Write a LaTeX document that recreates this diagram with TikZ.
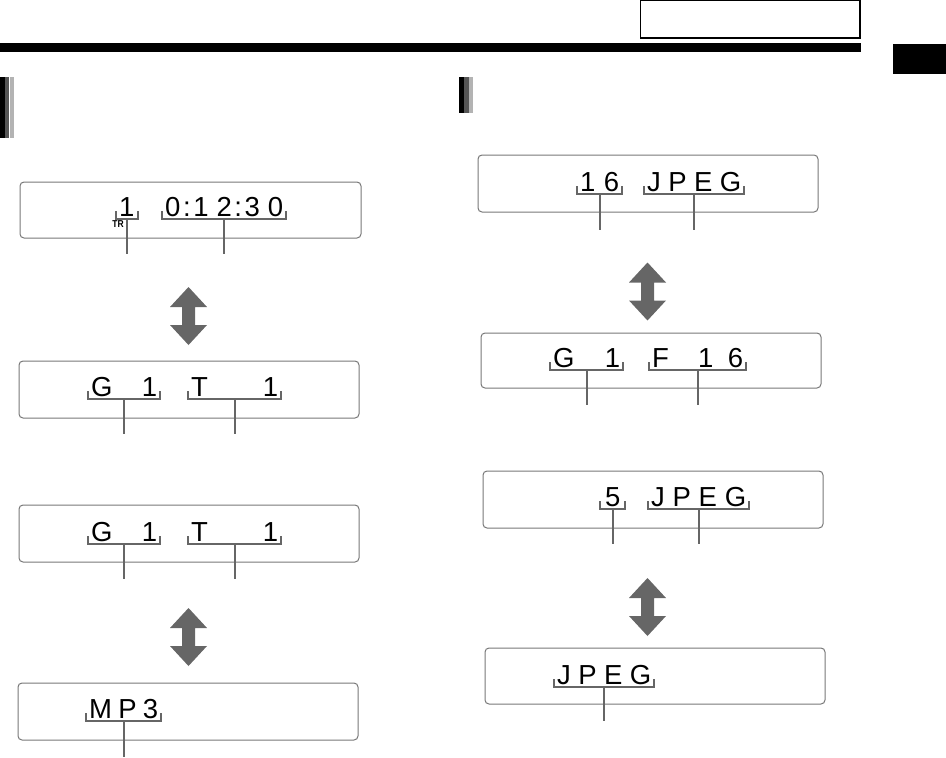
\documentclass[tikz,border=0pt]{standalone}
\usepackage{fontspec}
\setmainfont{Liberation Sans}
\usetikzlibrary{positioning}
\definecolor{LcdGray}{RGB}{102,102,102}
\definecolor{FrameGray}{RGB}{120,120,120}
\definecolor{BarDark}{RGB}{85,85,85}
\definecolor{BarLight}{RGB}{179,179,179}

% segment of a display: name, left x, baseline, width, text, leader end
\newcommand{\seg}[6]{%
  \node[seg, anchor=base west] (#1) at (#2,#3) {\makebox[#4pt][s]{#5}};
  \draw[brk] ([yshift=5pt]#1.base west) |- ([yshift=-2.5pt]#1.base) coordinate (#1-b)
    -| ([yshift=5pt]#1.base east);
  \coordinate (#1-y) at (0,#6);
  \coordinate (#1-e) at (#1-b |- #1-y);
  \draw[leader] (#1-b) -- (#1-e);
}
% double block arrow round a named centre
\newcommand{\toggle}[1]{%
  \fill[togglefill] (#1) ++(0,-29) -- ++(18.5,20) -- ++(-12,0) -- ++(0,18)
    -- ++(12,0) -- ++(-18.5,20) -- ++(-18.5,-20) -- ++(12,0) -- ++(0,-18)
    -- ++(-12,0) -- cycle;
}

\begin{document}
\begin{tikzpicture}[
  x=1pt, y=-1pt,
  lcd/.style={
    draw=FrameGray,
    line width=1pt,
    rounded corners=4pt,
    minimum width=340pt,
    minimum height=57pt,
    inner sep=0pt,
  },
  seg/.style={
    font=\fontsize{27.5}{27.5}\selectfont,
    inner xsep=3pt,
    inner ysep=0pt,
  },
  brk/.style={LcdGray, line width=2pt},
  leader/.style={LcdGray, line width=2pt},
  togglefill/.style={fill=LcdGray},
  trlab/.style={font=\fontsize{10}{10}\bfseries, inner sep=0pt},
]
  \useasboundingbox (0,0) rectangle (946,758);

  % -------- header --------
  \draw[line width=1.2pt] (640.6,0.6) rectangle (860,38);
  \fill[black] (0,43) rectangle (861,52);
  \fill[black] (893,44) rectangle (946,74);

  % -------- heading markers --------
  \fill[black] (0,77) rectangle (5,138);
  \fill[BarDark] (5,77) rectangle (9,138);
  \fill[BarLight] (10,77) rectangle (14,138);
  \fill[black] (459,77) rectangle (464,113);
  \fill[BarDark] (464,77) rectangle (469,113);
  \fill[BarLight] (469,77) rectangle (473,113);

  % -------- displays, left column --------
  \node[lcd, minimum width=341pt, minimum height=56pt] (L1) at (190.5,210) {};
  \node[lcd] (L2) at (189,389.5) {};
  \node[lcd] (L3) at (189,533.5) {};
  \node[lcd] (L4) at (188,711.5) {};

  % -------- displays, right column --------
  \node[lcd] (R1) at (648,183.5) {};
  \node[lcd, minimum height=55pt] (R2) at (651,360.5) {};
  \node[lcd] (R3) at (653,499.5) {};
  \node[lcd, minimum height=56pt] (R4) at (655,676) {};

  % -------- segments --------
  \seg{L1a}{116}{216}{16}{1\hfill}{254}
  \seg{L1b}{162}{216}{118}{0\hfill:\hfill 1\hfill\hfill\hfill 2\hfill:\hfill 3\hfill\hfill\hfill 0}{254}
  \node[trlab] (tr) at (118,224.5) {\scalebox{0.85}[1]{TR}};
  \seg{L2a}{88}{396}{66}{G\hfill 1}{434}
  \seg{L2b}{188}{396}{87}{T\hfill 1}{434}
  \seg{L3a}{88}{541}{66}{G\hfill 1}{579}
  \seg{L3b}{188}{541}{87}{T\hfill 1}{579}
  \seg{L4a}{86}{718}{69}{M\hfill P\hfill 3}{757}

  \seg{R1a}{577}{191}{39}{1\hfill 6}{230}
  \seg{R1b}{644}{191}{94}{J\hfill P\hfill E\hfill G}{230}
  \seg{R2a}{550}{367}{67}{G\hfill 1}{405}
  \seg{R2b}{649}{367}{91}{F\hfill\hfill 1\hfill 6}{405}
  \seg{R3a}{600}{506}{19}{\hfill 5\hfill}{544}
  \seg{R3b}{648}{506}{95}{J\hfill P\hfill E\hfill G}{544}
  \seg{R4a}{554}{684}{94}{J\hfill P\hfill E\hfill G}{721}

  % -------- toggle arrows --------
  \coordinate (LT1) at (188.5,316);
  \coordinate (LT2) at (188.5,637);
  \coordinate (RT1) at (647.5,291.5);
  \coordinate (RT2) at (647.5,607);
  \toggle{LT1}
  \toggle{LT2}
  \toggle{RT1}
  \toggle{RT2}
\end{tikzpicture}
\end{document}
